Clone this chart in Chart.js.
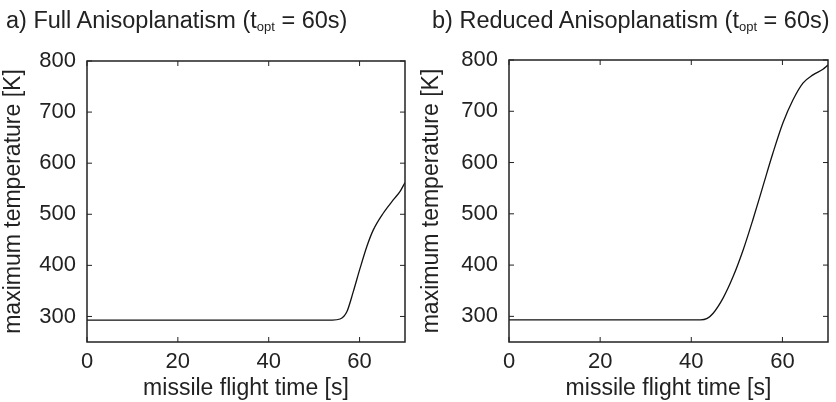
<!DOCTYPE html>
<html>
<head>
<meta charset="utf-8">
<script src="https://cdn.jsdelivr.net/npm/chart.js@4.4.1/dist/chart.umd.min.js"></script>
<style>
  body { margin: 0; background: #fff; }
  #wrap { position: relative; width: 836px; height: 402px; overflow: hidden; }
  .panel { position: absolute; top: 0; width: 418px; height: 402px; }
  .ttl {
    position: absolute; top: 7px; font: 23.5px "Liberation Sans", Arial, sans-serif;
    color: #222; white-space: nowrap;
  }
  .ttl sub { font-size: 13px; vertical-align: -3px; }
</style>
</head>
<body>
<div id="wrap">
  <div class="panel" style="left:0"><canvas id="chartA"></canvas></div>
  <div class="panel" style="left:418px"><canvas id="chartB"></canvas></div>
  <div class="ttl" style="left:6px">a) Full Anisoplanatism (t<sub>opt</sub> = 60s)</div>
  <div class="ttl" style="left:432px">b) Reduced Anisoplanatism (t<sub>opt</sub> = 60s)</div>
</div>
<script>
// panel a: full anisoplanatism
const timeA = [0, 54, 55.7, 56.5, 57.2, 58.6, 60.1, 61.6, 63.0, 65.2, 67.4, 69.0, 70];
const tempA = [293, 293, 295, 300, 309, 348, 394, 437, 469, 502, 528, 546, 562];

// panel b: reduced anisoplanatism
const timeB = [0, 42, 43.5, 44.8, 47.0, 49.2, 51.4, 53.5, 55.7, 57.9, 60.1, 62.3, 64.5, 66.7, 68.9, 70];
const tempB = [293, 293, 296, 306, 336, 378, 430, 488, 553, 618, 677, 722, 755, 771, 782, 790];

const xTicks = [0, 20, 40, 60];
const yTicks = [300, 400, 500, 600, 700, 800];

const ink = "#222";
const tickFont = { family: "'Liberation Sans', Arial, sans-serif", size: 22 };
const titleFont = { family: "'Liberation Sans', Arial, sans-serif", size: 23 };

// box round the plot with inward ticks on all four sides
const frame = {
  id: "frame",
  afterDatasetsDraw(chart) {
    const { ctx, chartArea: a, scales } = chart;
    const len = 5;
    ctx.save();
    ctx.strokeStyle = ink;
    ctx.lineWidth = 1.5;
    ctx.strokeRect(a.left, a.top, a.right - a.left, a.bottom - a.top);
    ctx.lineWidth = 1;
    ctx.beginPath();
    for (const v of xTicks) {
      const px = scales.x.getPixelForValue(v);
      ctx.moveTo(px, a.bottom); ctx.lineTo(px, a.bottom - len);
      ctx.moveTo(px, a.top); ctx.lineTo(px, a.top + len);
    }
    for (const v of yTicks) {
      const py = scales.y.getPixelForValue(v);
      ctx.moveTo(a.left, py); ctx.lineTo(a.left + len, py);
      ctx.moveTo(a.right, py); ctx.lineTo(a.right - len, py);
    }
    ctx.stroke();
    ctx.restore();
  },
};

function makeChart(id, times, temps, geo) {
  return new Chart(document.getElementById(id), {
    type: "line",
    data: {
      datasets: [{
        data: times.map((t, i) => ({ x: t, y: temps[i] })),
        borderColor: "#111",
        borderWidth: 1.3,
        pointRadius: 0,
        cubicInterpolationMode: "monotone",
        fill: false,
      }],
    },
    options: {
      responsive: true,
      maintainAspectRatio: false,
      animation: false,
      events: [],
      layout: { padding: { top: geo.top, right: geo.right, left: 0, bottom: 0 } },
      plugins: { legend: { display: false }, tooltip: { enabled: false } },
      scales: {
        x: {
          type: "linear",
          min: 0,
          max: 70,
          grid: { display: false, tickLength: 4 },
          border: { display: false },
          afterBuildTicks: (s) => { s.ticks = xTicks.map((v) => ({ value: v })); },
          afterFit: (s) => { s.height = 60; },
          ticks: { color: ink, font: tickFont, padding: 3, maxRotation: 0 },
          title: { display: true, text: "missile flight time [s]", color: ink, font: titleFont, padding: 0 },
        },
        y: {
          type: "linear",
          min: 250,
          max: 800,
          grid: { display: false },
          border: { display: false },
          afterBuildTicks: (s) => { s.ticks = yTicks.map((v) => ({ value: v })); },
          afterFit: (s) => { s.width = geo.left; },
          ticks: { color: ink, font: tickFont, padding: 3 },
          title: { display: true, text: "maximum temperature [K]", color: ink, font: titleFont, padding: 0 },
        },
      },
    },
    plugins: [frame],
  });
}

makeChart("chartA", timeA, tempA, { top: 61, right: 13, left: 87 });
makeChart("chartB", timeB, tempB, { top: 60, right: 8, left: 91 });
</script>
</body>
</html>
